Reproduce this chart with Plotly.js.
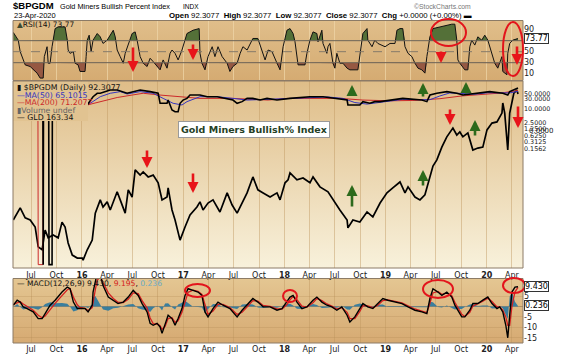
<!DOCTYPE html>
<html><head><meta charset="utf-8">
<script src="https://cdn.plot.ly/plotly-3.0.1.min.js"></script>
<style>html,body{margin:0;padding:0;background:#fff;}#chart{width:577px;height:354px;}</style>
</head><body><div id="chart"></div>
<script>
// ---------------- DATA ----------------
const quarterTicks = ['2015-07-01','2015-10-01','2016-01-01','2016-04-01','2016-07-01','2016-10-01','2017-01-01','2017-04-01','2017-07-01','2017-10-01','2018-01-01','2018-04-01','2018-07-01','2018-10-01','2019-01-01','2019-04-01','2019-07-01','2019-10-01','2020-01-01','2020-04-01'];
const quarterLabels = ['Jul','Oct','<b>16</b>','Apr','Jul','Oct','<b>17</b>','Apr','Jul','Oct','<b>18</b>','Apr','Jul','Oct','<b>19</b>','Apr','Jul','Oct','<b>20</b>','Apr'];

const rsiDates = [
'2015-04-28','2015-05-16','2015-05-23','2015-06-03','2015-06-10','2015-06-28','2015-07-09','2015-07-23','2015-08-03','2015-08-14','2015-08-18','2015-08-28','2015-09-01','2015-09-08','2015-09-15','2015-09-19','2015-09-26','2015-10-07','2015-11-01','2015-11-09','2015-11-12','2015-11-19','2015-12-01','2015-12-07','2015-12-18','2015-12-25',
'2016-01-12','2016-01-16','2016-01-20','2016-01-27','2016-02-03','2016-02-10','2016-02-25','2016-03-07','2016-03-17','2016-04-01','2016-04-12','2016-04-23','2016-04-30','2016-05-07','2016-05-18','2016-05-29','2016-06-05','2016-06-16','2016-06-30','2016-07-11','2016-07-18','2016-07-29','2016-08-09','2016-08-23','2016-09-03','2016-09-14','2016-09-28','2016-10-09','2016-10-20','2016-11-03','2016-11-14','2016-11-21','2016-12-02','2016-12-13','2016-12-27',
'2017-01-07','2017-01-14','2017-02-05','2017-02-27','2017-03-02','2017-03-09','2017-03-20','2017-03-31','2017-04-15','2017-04-25','2017-05-06','2017-05-21','2017-06-08','2017-06-18','2017-06-29','2017-07-14','2017-07-25','2017-08-04','2017-08-19','2017-08-30','2017-09-09','2017-09-27','2017-10-12','2017-10-23','2017-11-03','2017-11-17','2017-12-05','2017-12-16','2017-12-27',
'2018-01-10','2018-01-21','2018-02-01','2018-02-08','2018-02-15','2018-02-19','2018-03-16','2018-03-23','2018-04-03','2018-04-14','2018-04-28','2018-05-02','2018-05-16','2018-05-20','2018-06-03','2018-06-07','2018-06-14','2018-06-21','2018-06-25','2018-07-02','2018-07-09','2018-07-20','2018-07-31','2018-08-15','2018-08-25','2018-09-23','2018-09-30','2018-10-11','2018-10-26','2018-10-29','2018-11-13','2018-11-23','2018-12-04','2018-12-19','2018-12-30',
'2019-01-17','2019-02-04','2019-02-11','2019-02-22','2019-03-04','2019-03-12','2019-03-23','2019-04-06','2019-04-17','2019-04-28','2019-05-12','2019-05-23','2019-05-30','2019-06-10','2019-06-21','2019-07-16','2019-08-10','2019-08-28','2019-09-08','2019-09-15','2019-09-19','2019-09-26','2019-10-14','2019-10-25','2019-11-01','2019-11-08','2019-11-19','2019-11-30','2019-12-14','2019-12-25',
'2020-01-05','2020-01-20','2020-01-30','2020-02-10','2020-02-25','2020-02-28','2020-03-14','2020-03-17','2020-03-24','2020-04-04','2020-04-19','2020-04-23'];
const rsiVals = [
85,71,50,35,26,23,17,11,2,2,41,59,29,29,59,71,92,95,95,71,53,47,50,29,26,14,
14,41,71,80,50,71,83,77,65,71,80,89,77,53,41,29,47,62,83,86,71,41,29,23,38,32,23,17,35,20,47,53,47,35,53,
71,83,89,92,47,29,17,41,59,41,59,41,29,14,23,29,47,59,53,65,74,74,53,35,53,50,29,17,59,
89,92,83,68,41,26,26,47,71,86,83,68,89,65,47,59,65,41,29,20,47,29,29,20,17,17,41,83,92,71,59,71,65,62,59,
65,65,89,92,92,59,47,41,29,20,17,11,41,77,92,95,98,100,100,71,35,29,17,17,59,71,62,77,71,80,
71,47,29,20,41,14,8,47,65,71,74,73.77];

const gldDates = [
'2015-04-28','2015-05-23','2015-06-10','2015-06-28','2015-07-16','2015-07-27','2015-08-10','2015-08-21','2015-09-01','2015-09-19','2015-10-07','2015-10-21','2015-11-01','2015-11-12','2015-11-27','2015-12-15',
'2016-01-02','2016-01-05','2016-01-20','2016-02-07','2016-02-18','2016-03-07','2016-03-17','2016-04-01','2016-04-12','2016-05-07','2016-05-18','2016-06-05','2016-06-16','2016-06-30','2016-07-11','2016-07-29','2016-08-09','2016-08-27','2016-09-14','2016-10-02','2016-10-16','2016-11-03','2016-11-07','2016-11-21','2016-12-02','2016-12-20',
'2017-01-07','2017-01-25','2017-02-19','2017-03-02','2017-03-13','2017-03-31','2017-04-18','2017-05-13','2017-06-08','2017-06-26','2017-07-14','2017-08-01','2017-08-19','2017-09-09','2017-09-27','2017-10-16','2017-11-10','2017-12-05','2017-12-16',
'2018-01-03','2018-01-14','2018-01-21','2018-02-15','2018-03-09','2018-04-03','2018-04-14','2018-05-09','2018-06-07','2018-06-25','2018-07-20','2018-08-15','2018-08-18','2018-09-05','2018-09-30','2018-10-26','2018-11-16','2018-12-12',
'2019-01-06','2019-01-27','2019-02-22','2019-03-12','2019-03-23','2019-04-17','2019-05-05','2019-05-23','2019-06-03','2019-06-21','2019-07-05','2019-07-23','2019-08-10','2019-08-21','2019-09-01','2019-09-15','2019-09-26','2019-10-07','2019-10-25','2019-11-12','2019-11-30','2019-12-18',
'2020-01-02','2020-01-20','2020-02-07','2020-02-25','2020-02-28','2020-03-06','2020-03-14','2020-03-17','2020-03-24','2020-04-01','2020-04-08','2020-04-19','2020-04-23'];
const gldVals = [
112.5,116.6,113.2,112.5,110.2,103.9,103.0,109.2,106.7,107.6,106.7,111.8,110.2,105.1,101.4,100.5,
100.5,99.9,103.0,106.0,114.8,119.4,116.9,118.7,115.9,122.3,119.4,114.8,123.0,120.4,130.5,128.5,129.7,127.8,128.5,125.6,119.4,120.4,123.7,115.9,112.5,106.0,
110.2,114.2,116.9,118.7,115.9,118.3,119.4,115.2,121.9,117.6,114.8,118.3,121.9,127.8,123.0,121.9,120.4,121.9,119.4,
125.6,126.7,129.3,126.7,127.4,125.6,127.8,124.1,122.3,119.4,115.9,112.5,109.9,112.5,111.8,115.2,113.5,118.3,
121.9,123.7,125.9,121.9,124.1,120.4,119.4,121.2,125.6,132.0,134.4,139.6,143.9,146.0,147.7,144.7,146.0,143.9,145.6,138.4,139.2,139.6,
146.9,149.9,150.4,154.4,159.1,154.4,142.6,138.4,154.4,159.1,163.8,165.3,163.34];

const bpDates = [
'2015-04-28','2015-06-10','2015-07-16','2015-08-13','2015-08-14','2015-08-15','2015-09-03','2015-09-04','2015-09-15','2015-09-16','2015-10-21','2015-11-27',
'2016-01-20','2016-02-10','2016-02-25','2016-03-07','2016-04-12','2016-05-07','2016-06-12','2016-07-04','2016-07-29','2016-09-03','2016-10-02','2016-10-09','2016-11-03','2016-11-07','2016-11-21','2016-12-02','2016-12-13','2016-12-20','2016-12-31',
'2017-01-14','2017-01-25','2017-03-02','2017-03-28','2017-05-03','2017-06-29','2017-07-14','2017-08-01','2017-08-19','2017-09-09','2017-10-05','2017-10-30','2017-12-05',
'2018-01-10','2018-01-21','2018-04-03','2018-05-20','2018-08-15','2018-08-18','2018-09-30','2018-10-11','2018-11-05','2018-11-23','2018-12-12',
'2019-01-17','2019-03-04','2019-05-12','2019-05-30','2019-06-10','2019-07-05','2019-08-10','2019-09-15','2019-10-07','2019-11-26',
'2020-01-12','2020-02-28','2020-03-17','2020-03-24','2020-04-19','2020-04-23'];
const bpVals = [
20,14,6,4,0,4,3,0,0,6,40,25,
15.5,37,53,53,75,75,53,63,75,63,53,18.5,18.5,26,9.1,7.6,7.6,18.5,26,
31,44,44,37,37,26,18.5,22,31,31,26,31,26,
31,31,37,37,26,15.5,15.5,22,18.5,22,22,
26,31,26,22,44,53,63,53,44,53,
63,53,44,63,90.6,92.3077];

const ma50Dates = ['2015-04-28','2015-06-10','2015-08-14','2015-10-07','2015-11-27',
'2016-01-31','2016-03-07','2016-04-12','2016-05-18','2016-06-12','2016-07-29','2016-09-14','2016-10-20','2016-11-25','2016-12-27',
'2017-01-14','2017-03-02','2017-05-03','2017-06-29','2017-08-19','2017-10-30',
'2018-01-10','2018-02-15','2018-04-03','2018-06-07','2018-07-31','2018-09-12','2018-10-26','2018-12-04',
'2019-01-17','2019-03-04','2019-05-12','2019-06-10','2019-07-16','2019-08-21','2019-10-03','2019-11-19',
'2020-01-05','2020-02-25','2020-03-24','2020-04-23'];
const ma50Vals = [25,18,6,10,22, 18.5,37,53,63,49,63,53,31,18.5,15.5, 22,37,37,31,26,28, 31,33,35,36,31,20,17,20, 24,28,27,27,40,55,52,48, 56,58,55,65.1015];

const ma200Dates = ['2015-04-28','2015-07-26','2015-07-27','2015-08-13','2015-08-14','2015-11-01',
'2016-01-20','2016-03-07','2016-05-07','2016-06-30','2016-08-09','2016-10-09','2016-12-09',
'2017-03-02','2017-06-29','2017-11-03','2018-01-10','2018-04-03','2018-07-20','2018-10-11',
'2019-01-17','2019-04-17','2019-07-16','2019-10-03','2019-12-25','2020-02-25','2020-04-23'];
const ma200Vals = [30,22,0,0,18,14, 15.5,22,34,44,53,44,37, 31,31,26,31,32,31,26, 24,25,30,40,48,55,71.2077];

const bpTickVals = [50,30,10,2.5,1.25,0.625,0.3125,0.1562];
const bpTickText = ['50.0000','30.0000','10.0000','2.5000','1.2500','0.6250','0.3125','0.1562'];

const macdDates = [
'2015-04-28','2015-05-12','2015-05-23','2015-06-03','2015-06-17','2015-07-09','2015-07-27','2015-08-10','2015-08-21','2015-09-08','2015-09-26','2015-10-21','2015-11-09','2015-11-19','2015-12-01','2015-12-15','2015-12-25',
'2016-01-12','2016-01-23','2016-02-07','2016-02-10','2016-02-18','2016-02-25','2016-03-07','2016-03-17','2016-04-05','2016-04-23','2016-05-10','2016-05-29','2016-06-16','2016-07-04','2016-07-22','2016-08-05','2016-08-23','2016-09-03','2016-09-14','2016-09-28','2016-10-09','2016-10-16','2016-10-27','2016-11-07','2016-11-21','2016-12-02','2016-12-13','2016-12-27',
'2017-01-07','2017-01-18','2017-02-05','2017-02-23','2017-03-09','2017-03-20','2017-03-31','2017-04-18','2017-05-06','2017-05-24','2017-06-18','2017-07-14','2017-08-01','2017-08-22','2017-09-09','2017-09-27','2017-10-16','2017-11-10','2017-12-05','2017-12-23',
'2018-01-10','2018-01-21','2018-02-01','2018-02-15','2018-03-05','2018-03-23','2018-04-14','2018-04-28','2018-05-16','2018-06-03','2018-06-21','2018-07-09','2018-07-27','2018-08-15','2018-08-25','2018-09-12','2018-09-30','2018-10-11','2018-10-29','2018-11-16','2018-12-04','2018-12-22',
'2019-01-09','2019-02-04','2019-03-01','2019-03-23','2019-04-17','2019-05-12','2019-05-30','2019-06-10','2019-06-21','2019-07-09','2019-07-23','2019-08-10','2019-08-28','2019-09-08','2019-09-19','2019-10-03','2019-10-14','2019-11-01','2019-11-12','2019-11-30','2019-12-18',
'2020-01-05','2020-01-20','2020-02-07','2020-02-17','2020-02-28','2020-03-10','2020-03-17','2020-03-24','2020-04-01','2020-04-12','2020-04-23'];
const macdVals = [
0.6,3,2.1,-0.2,-1,-2.6,-5.8,-5.8,-3.4,0.6,3,6.9,9.3,8.5,2.1,-1,-1,
-1,-2.6,0.6,6.9,13,16,15,10,4.5,3,1.4,2.1,4.5,7.7,5.3,1.4,-2.6,-8.1,-9,-8.1,-9.8,-12.9,-8.1,-4.2,-5.8,-9,-5.8,-1,
5.3,8.5,7.7,6.9,5.3,-2.6,-5,-1,2.1,0.6,-1,-5,-1.8,1.4,3.8,2.1,-0.2,-0.2,-1.8,-1,
2.1,4.5,5.3,2.1,-1,-0.2,3,4.5,2.1,0.6,-0.2,-1.8,-0.2,-4.2,-7.4,-5,-1,1.4,-0.2,-1,1.4,3.8,
3,2.1,1.4,-0.2,-1.8,-2.6,-3.4,3.8,8.5,6.9,5.3,6.9,4.5,0.6,-1.8,-5,-5,-1.8,1.4,1.4,3,
4.5,1.4,-1,-0.2,-2.6,-9,-15,-4.2,6.9,9.3,9.43];
const signalVals = [
1.0,1.8,2.3,1.2,0.0,-1.8,-4.2,-5.4,-4.6,-1.4,1.5,5.2,8.0,8.6,4.5,0.8,-0.5,
-0.9,-1.9,-0.6,2.5,8.0,12.5,14.5,11.5,6.5,3.8,2.0,1.9,3.5,6.5,6.2,2.8,-0.8,-5.5,-8.2,-8.4,-9.2,-11.0,-9.5,-5.8,-5.4,-7.6,-6.8,-2.8,
2.5,6.8,7.8,7.2,5.8,0.5,-3.8,-2.2,1.0,1.0,-0.5,-3.8,-2.8,0.2,2.8,2.6,0.5,0.0,-1.2,-1.2,
0.9,3.2,4.8,3.2,0.2,-0.3,1.8,3.8,2.8,1.2,0.2,-1.2,-0.6,-2.8,-5.8,-5.8,-2.4,0.4,0.3,-0.6,0.6,2.8,
3.2,2.4,1.7,0.3,-1.2,-2.2,-3.0,1.5,6.5,7.2,5.8,6.4,5.2,2.0,-0.6,-3.8,-4.8,-2.8,0.2,1.2,2.5,
4.0,2.4,-0.2,-0.2,-1.8,-5.0,-9.0,-9.0,0.0,7.0,9.195];
const histVals = [
-0.4,1.2,-0.2,-1.4,-1.0,-0.8,-1.6,-0.4,1.2,2.0,1.5,1.7,1.3,-0.1,-2.4,-1.8,-0.5,
-0.1,-0.7,1.2,4.4,5.0,3.5,0.5,-1.5,-2.0,-0.8,-0.6,0.2,1.0,1.2,-0.9,-1.4,-1.8,-2.6,-0.8,0.3,-0.6,-1.9,1.4,1.6,-0.4,-1.4,1.0,1.8,
2.8,1.7,-0.1,-0.3,-0.5,-3.1,-1.2,1.2,1.1,-0.4,-0.5,-1.2,1.0,1.2,1.0,-0.5,-0.7,-0.2,-0.6,0.2,
1.2,1.3,0.5,-1.1,-1.2,0.1,1.2,0.7,-0.7,-0.6,-0.4,-0.6,0.4,-1.4,-1.6,0.8,1.4,1.0,-0.5,-0.4,0.8,1.0,
-0.2,-0.3,-0.3,-0.5,-0.6,-0.4,-0.4,2.3,2.0,-0.3,-0.5,0.5,-0.7,-1.4,-1.2,-1.2,-0.2,1.0,1.2,0.2,0.5,
0.5,-1.0,-0.8,0.0,-0.8,-4.0,-6.0,4.8,6.9,2.3,0.236];
const macdTickVals = [5,-5,-10,-15];
const macdTickText = ['5','-5','-10','-15'];

// ---------------- LAYOUT HELPERS ----------------
const W=577,H=354,L=13,R=523;
const px=x=>(x-L)/(R-L), py=y=>1-y/H;
const dom=(t,b)=>[1-b/H,1-t/H];
const FONT='DejaVu Sans, Verdana, sans-serif';
const ARIAL='Liberation Sans, Arial, sans-serif';
const ZERO_FLOOR=Math.pow(10,-6.1);
const floorZero=a=>a.map(v=>v===0?ZERO_FLOOR:v);

function grad(c1,c2){
  const s='<svg xmlns="http://www.w3.org/2000/svg" width="10" height="100" viewBox="0 0 10 100" preserveAspectRatio="none"><defs><linearGradient id="g" x1="0" y1="0" x2="0" y2="1"><stop offset="0" stop-color="'+c1+'"/><stop offset="1" stop-color="'+c2+'"/></linearGradient></defs><rect x="0" y="0" width="10" height="100" fill="url(#g)"/></svg>';
  return 'data:image/svg+xml;base64,'+btoa(s);
}
function clipFill(dates,vals,level,above){
  const xs=[],ys=[];let pt=null,pv=null;
  dates.forEach((d,i)=>{const t=Date.parse(d),v=vals[i];
    if(i>0&&(pv-level)*(v-level)<0){xs.push(pt+(level-pv)/(v-pv)*(t-pt));ys.push(level);}
    xs.push(t);ys.push(above?Math.max(v,level):Math.min(v,level));pt=t;pv=v;});
  return {xs,ys,base:xs.map(()=>level)};
}

const P={rsi:[20.5,80.5],main:[81,268],macd:[278.5,343]};
const g=clipFill(rsiDates,rsiVals,70,true), b=clipFill(rsiDates,rsiVals,30,false);
const nl={width:0};
const traces=[
 {x:g.xs,y:g.base,xaxis:'x3',yaxis:'y',mode:'lines',line:nl,hoverinfo:'skip'},
 {x:g.xs,y:g.ys,xaxis:'x3',yaxis:'y',mode:'lines',line:nl,fill:'tonexty',fillcolor:'rgb(84,112,56)'},
 {x:b.xs,y:b.base,xaxis:'x3',yaxis:'y',mode:'lines',line:nl,hoverinfo:'skip'},
 {x:b.xs,y:b.ys,xaxis:'x3',yaxis:'y',mode:'lines',line:nl,fill:'tonexty',fillcolor:'rgb(150,88,66)'},
 {x:rsiDates,y:rsiVals,xaxis:'x3',yaxis:'y',mode:'lines',line:{color:'#111',width:1}},
 {x:gldDates,y:gldVals,xaxis:'x',yaxis:'y2',mode:'lines',line:{color:'#000',width:1.7}},
 {x:ma200Dates,y:floorZero(ma200Vals),xaxis:'x',yaxis:'y3',mode:'lines',line:{color:'#cc2a2a',width:1}},
 {x:ma50Dates,y:floorZero(ma50Vals),xaxis:'x',yaxis:'y3',mode:'lines',line:{color:'#3535c0',width:1}},
 {x:bpDates,y:floorZero(bpVals),xaxis:'x',yaxis:'y3',mode:'lines',line:{color:'#000',width:1.6}},
 {x:macdDates,y:histVals,xaxis:'x2',yaxis:'y4',mode:'lines',line:nl,fill:'tozeroy',fillcolor:'rgba(40,120,160,0.9)'},
 {x:macdDates,y:signalVals,xaxis:'x2',yaxis:'y4',mode:'lines',line:{color:'#d42020',width:1.3}},
 {x:macdDates,y:macdVals,xaxis:'x2',yaxis:'y4',mode:'lines',line:{color:'#000',width:1.4}}
];

const xRange=['2015-04-27','2020-05-11'];
const xCommon={type:'date',range:xRange,tickvals:quarterTicks,ticktext:quarterLabels,showgrid:true,
  gridcolor:'rgba(190,150,95,0.45)',gridwidth:1,ticks:'',zeroline:false,showline:false,
  tickfont:{family:FONT,size:8,color:'#222'},fixedrange:true};
const yFont={family:FONT,size:8,color:'#222'};

const shapes=[
 {type:'line',xref:'paper',yref:'y',x0:0,x1:1,y0:70,y1:70,line:{color:'#6c6458',width:1}},
 {type:'line',xref:'paper',yref:'y',x0:0,x1:1,y0:30,y1:30,line:{color:'#6c6458',width:1}},
 {type:'line',xref:'paper',yref:'y',x0:0,x1:1,y0:50,y1:50,line:{color:'#857a6a',width:1,dash:'dash'}},
 // cover under the main legend
 {type:'rect',xref:'paper',yref:'paper',x0:0,x1:px(88),y0:py(121),y1:py(81.5),fillcolor:'rgb(225,195,145)',line:{width:0},layer:'above'},
];
Object.values(P).forEach(([t,bm])=>shapes.push({type:'rect',xref:'paper',yref:'paper',x0:0,x1:1,y0:py(bm),y1:py(t),line:{color:'#8c7b66',width:1},fillcolor:'rgba(0,0,0,0)'}));
// red ellipses
[[431,19,466,46],[503,22,523,76],[185,284,210,297],[283,290,297,302],[423,280,453,298],[503,278,525,293]].forEach(e=>
 shapes.push({type:'circle',xref:'paper',yref:'paper',x0:px(e[0]),x1:px(e[2]),y0:py(e[3]),y1:py(e[1]),line:{color:'#e3141c',width:2},layer:'above'}));

const ann=[];
function txt(x,y,text,size,opts){ann.push(Object.assign({xref:'paper',yref:'paper',x:px(x),y:py(y),text:text,showarrow:false,xanchor:'left',yanchor:'middle',font:{family:ARIAL,size:size,color:'#000'}},opts||{}));}
// header
txt(11,6,'<b>$BPGDM</b>',9.5);
txt(58,6.5,'Gold Miners Bullish Percent Index',7.3);
txt(181,6.5,'INDX',6.5);
txt(473,6.5,'©StockCharts.com',6.8,{xanchor:'right',font:{family:ARIAL,size:6.8,color:'#777'}});
txt(12,15.5,'23-Apr-2020',7.5);
txt(474,15.5,'<b>Open</b> 92.3077  <b>High</b> 92.3077  <b>Low</b> 92.3077  <b>Close</b> 92.3077  <b>Chg</b> +0.0000 (+0.00%) ▬',7.8,{xanchor:'right'});
// legends
txt(15,24,'<span style="color:#3d4a30">▲</span>RSI(14) 73.77',7.5,{font:{family:FONT,size:7.5,color:'#111'}});
const lf={family:FONT,size:7.8,color:'#111'};
txt(15,87,'▮ $BPGDM (Daily) 92.3077',8,{font:lf});
txt(15,95,'<span style="color:#3535c0">—MA(50) 65.1015</span>',8,{font:lf});
txt(15,102.7,'<span style="color:#cc2a2a">—MA(200) 71.2077</span>',8,{font:lf});
txt(15,110,'<span style="color:#666">▮Volume undef</span>',8,{font:lf});
txt(15,117,'— GLD 163.34',8,{font:lf});
txt(15,283,'— MACD(12,26,9) 9.430, <span style="color:#d42020">9.195</span>, <span style="color:#6aaac4">0.236</span>',7.8,{font:{family:FONT,size:7.6,color:'#111'}});
// title box
ann.push({xref:'paper',yref:'paper',x:px(178),y:py(129.5),text:'<b>Gold Miners Bullish% Index</b>',showarrow:false,
  font:{family:FONT,size:9.5,color:'#253f25'},bgcolor:'#ffffff',bordercolor:'#9a9a9a',borderwidth:1,borderpad:2});
// right boxed values
function box(yref,y,text){ann.push({xref:'paper',yref:yref,x:1,y:y,xanchor:'left',xshift:1,yanchor:'middle',text:text,showarrow:false,
  font:{family:FONT,size:8,color:'#000'},bgcolor:'#ffffff',bordercolor:'#333',borderwidth:1,borderpad:0});}
box('y',73.77,'73.77');
box('y3',92.3077,'<b>92.3077</b>');
box('y4',9.43,'9.430');
box('y4',0.236,'0.236');
ann.push({xref:'paper',yref:'y3',x:1,xshift:4,xanchor:'left',y:ZERO_FLOOR,yanchor:'middle',text:'0.0000',showarrow:false,font:{family:FONT,size:7,color:'#222'}});
// arrows [tipX, tipY, tailY, color]
const RED='#e8141a', GREEN='#2c6a1c';
[[133,72,46,RED],[193,60,43,RED],[441,63,50,RED],[517,65,45,RED],
 [147,168,149,RED],[193,193,172,RED],[450,125,108,RED],[518,128,105,RED],
 [352,85,97,GREEN],[423,83,98,GREEN],[466,82,95,GREEN],[475,120,137,GREEN],[352,185,208,GREEN],[423,170,187,GREEN]
].forEach(a=>ann.push({xref:'paper',yref:'paper',x:px(a[0]),y:py(a[1]),ax:0,ay:a[2]-a[1],axref:'pixel',ayref:'pixel',
  text:'',showarrow:true,arrowhead:2,arrowsize:0.85,arrowwidth:2.6,arrowcolor:a[3],standoff:0}));

const images=[
 {source:grad('#e0be8a','#d5ab72'),xref:'paper',yref:'paper',x:0,y:py(P.rsi[0]),sizex:1,sizey:(P.rsi[1]-P.rsi[0])/H,xanchor:'left',yanchor:'top',sizing:'stretch',layer:'below'},
 {source:grad('#dfbd88','#f8f1db'),xref:'paper',yref:'paper',x:0,y:py(P.main[0]),sizex:1,sizey:(P.main[1]-P.main[0])/H,xanchor:'left',yanchor:'top',sizing:'stretch',layer:'below'},
 {source:grad('#e4c692','#d6aa72'),xref:'paper',yref:'paper',x:0,y:py(P.macd[0]),sizex:1,sizey:(P.macd[1]-P.macd[0])/H,xanchor:'left',yanchor:'top',sizing:'stretch',layer:'below'}
];

const layout={
 width:W,height:H,margin:{l:L,r:W-R,t:0,b:0},showlegend:false,
 paper_bgcolor:'#ffffff',plot_bgcolor:'rgba(0,0,0,0)',
 xaxis:Object.assign({},xCommon,{anchor:'y2',ticklabelstandoff:1}),
 xaxis2:Object.assign({},xCommon,{anchor:'y4'}),
 xaxis3:Object.assign({},xCommon,{anchor:'y',matches:'x',showticklabels:false,gridcolor:'rgba(240,215,170,0.7)'}),
 yaxis:{domain:dom(...P.rsi),range:[-2.4,106.7],anchor:'x3',side:'right',tickvals:[90,50,30,10],ticks:'',showgrid:false,zeroline:false,tickfont:yFont,fixedrange:true},
 yaxis2:{domain:dom(...P.main),type:'log',range:[1.9894,2.2299],anchor:'x',showticklabels:false,showgrid:false,zeroline:false,ticks:'',fixedrange:true},
 yaxis3:{overlaying:'y2',anchor:'x',side:'right',type:'log',range:[-6.254,2.285],tickvals:bpTickVals,ticktext:bpTickText,ticks:'',showgrid:false,zeroline:false,tickfont:{family:FONT,size:6.4,color:'#222'},fixedrange:true},
 yaxis4:{domain:dom(...P.macd),range:[-17.5,13.4],anchor:'x2',side:'right',tickvals:macdTickVals,ticktext:macdTickText,ticks:'',showgrid:true,gridcolor:'rgba(170,130,80,0.25)',zeroline:true,zerolinecolor:'rgba(110,90,70,0.45)',zerolinewidth:1,tickfont:yFont,fixedrange:true},
 shapes:shapes,annotations:ann,images:images
};
Plotly.newPlot('chart',traces,layout,{displayModeBar:false,staticPlot:true});
</script></body></html>
